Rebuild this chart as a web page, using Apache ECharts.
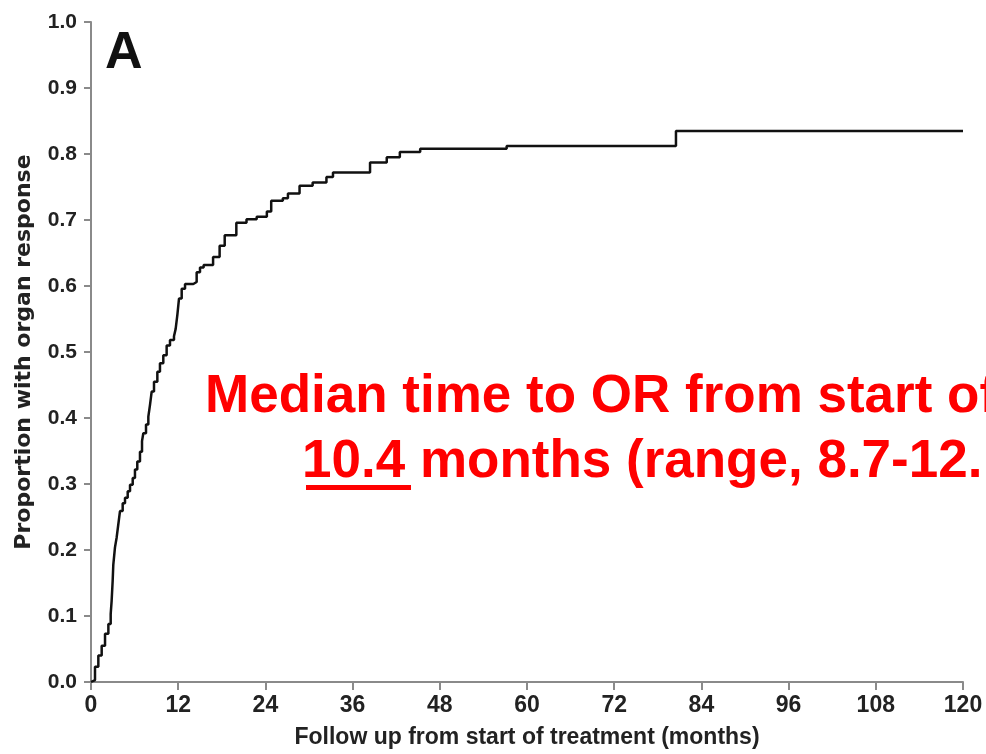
<!DOCTYPE html>
<html>
<head>
<meta charset="utf-8">
<script src="https://cdn.jsdelivr.net/npm/echarts@6/dist/echarts.min.js"></script>
<style>
html,body{margin:0;padding:0;background:#fff;}
#orChart{width:986px;height:754px;}
</style>
</head>
<body>
<div id="orChart"></div>
<script>
// follow-up time (months) and proportion with organ response
var months=[0,0.09,0.55,1.01,1.47,1.93,2.39,2.71,2.84,2.98,3.07,3.30,3.53,3.76,3.99,4.36,4.68,5.05,5.37,5.74,6.05,6.37,6.74,7.02,7.20,7.57,7.89,8.12,8.35,8.67,9.13,9.49,9.95,10.41,10.87,11.42,11.65,11.88,12.11,12.48,12.94,14.08,14.54,15.0,15.5,16.8,17.7,18.4,20.0,21.4,22.8,24.2,24.8,26.4,27.1,28.7,30.5,32.4,33.3,37.0,38.4,40.7,42.5,45.3,57.2,80.5,120];
var response=[0,0.003,0.023,0.040,0.055,0.073,0.088,0.103,0.123,0.153,0.178,0.204,0.219,0.239,0.259,0.271,0.279,0.289,0.299,0.309,0.322,0.334,0.349,0.365,0.377,0.390,0.402,0.420,0.440,0.455,0.470,0.483,0.495,0.510,0.518,0.524,0.535,0.556,0.581,0.596,0.603,0.606,0.621,0.628,0.632,0.644,0.661,0.677,0.696,0.701,0.705,0.713,0.729,0.733,0.740,0.752,0.757,0.765,0.772,0.772,0.787,0.795,0.803,0.808,0.812,0.835,0.835];
var xTicks=[0,12,24,36,48,60,72,84,96,108,120];
var noteLine1="Median time to OR from start of";
var noteValue="10.4";
var noteRest=" months (range, 8.7-12.";

var orChart=echarts.init(document.getElementById("orChart"));

var points=[];
for(var i=0;i<months.length;i++){
	points.push([months[i],response[i]]);
}

var axisGray='#8a8a8a';
var red='#ff0000';

var option={
	backgroundColor:'#fff',
	animation:false,
	grid:{
		left:91,
		right:23,
		top:22,
		bottom:69
	},
	xAxis:{
		type:'value',
		min:0,
		max:120,
		interval:12,
		name:'Follow up from start of treatment (months)',
		nameLocation:'middle',
		nameGap:44,
		nameTextStyle:{
			fontFamily:'Liberation Sans',
			fontWeight:'bold',
			fontSize:23,
			color:'#222'
		},
		axisLine:{lineStyle:{color:axisGray,width:2}},
		axisTick:{inside:false,length:8,lineStyle:{color:axisGray,width:2}},
		axisLabel:{
			margin:12,
			fontFamily:'Liberation Sans',
			fontWeight:'bold',
			fontSize:23,
			color:'#222',
			formatter:function(v){return xTicks.indexOf(v)>=0?String(v):'';}
		},
		splitLine:{show:false}
	},
	yAxis:{
		type:'value',
		min:0,
		max:1,
		interval:0.1,
		name:'Proportion with organ response',
		nameLocation:'middle',
		nameGap:56,
		nameTextStyle:{
			fontFamily:'DejaVu Sans',
			fontWeight:'bold',
			fontSize:22,
			color:'#222'
		},
		axisLine:{show:true,lineStyle:{color:axisGray,width:2}},
		axisTick:{show:true,inside:false,length:7,lineStyle:{color:axisGray,width:2}},
		axisLabel:{
			margin:14,
			fontFamily:'Liberation Sans',
			fontWeight:'bold',
			fontSize:21,
			color:'#222',
			formatter:function(v){return v.toFixed(1);}
		},
		splitLine:{show:false}
	},
	series:[{
		name:'Organ response',
		type:'line',
		step:'end',
		symbol:'none',
		data:points,
		lineStyle:{color:'#111',width:2.5}
	}],
	graphic:[
		{
			type:'text',
			x:105,
			y:54,
			style:{
				text:'A',
				font:'bold 52px "Liberation Sans"',
				fill:'#111',
				textAlign:'left',
				textVerticalAlign:'middle'
			}
		},
		{
			type:'text',
			x:205,
			y:397,
			style:{
				text:noteLine1,
				font:'bold 53px "Liberation Sans"',
				fill:red,
				textAlign:'left',
				textVerticalAlign:'middle'
			}
		},
		{
			type:'text',
			x:302,
			y:462,
			style:{
				text:noteValue+noteRest,
				font:'bold 53px "Liberation Sans"',
				fill:red,
				textAlign:'left',
				textVerticalAlign:'middle'
			}
		},
		{
			type:'rect',
			shape:{x:306,y:485,width:105,height:5},
			style:{fill:red}
		}
	]
};
orChart.setOption(option);
</script>
</body>
</html>
